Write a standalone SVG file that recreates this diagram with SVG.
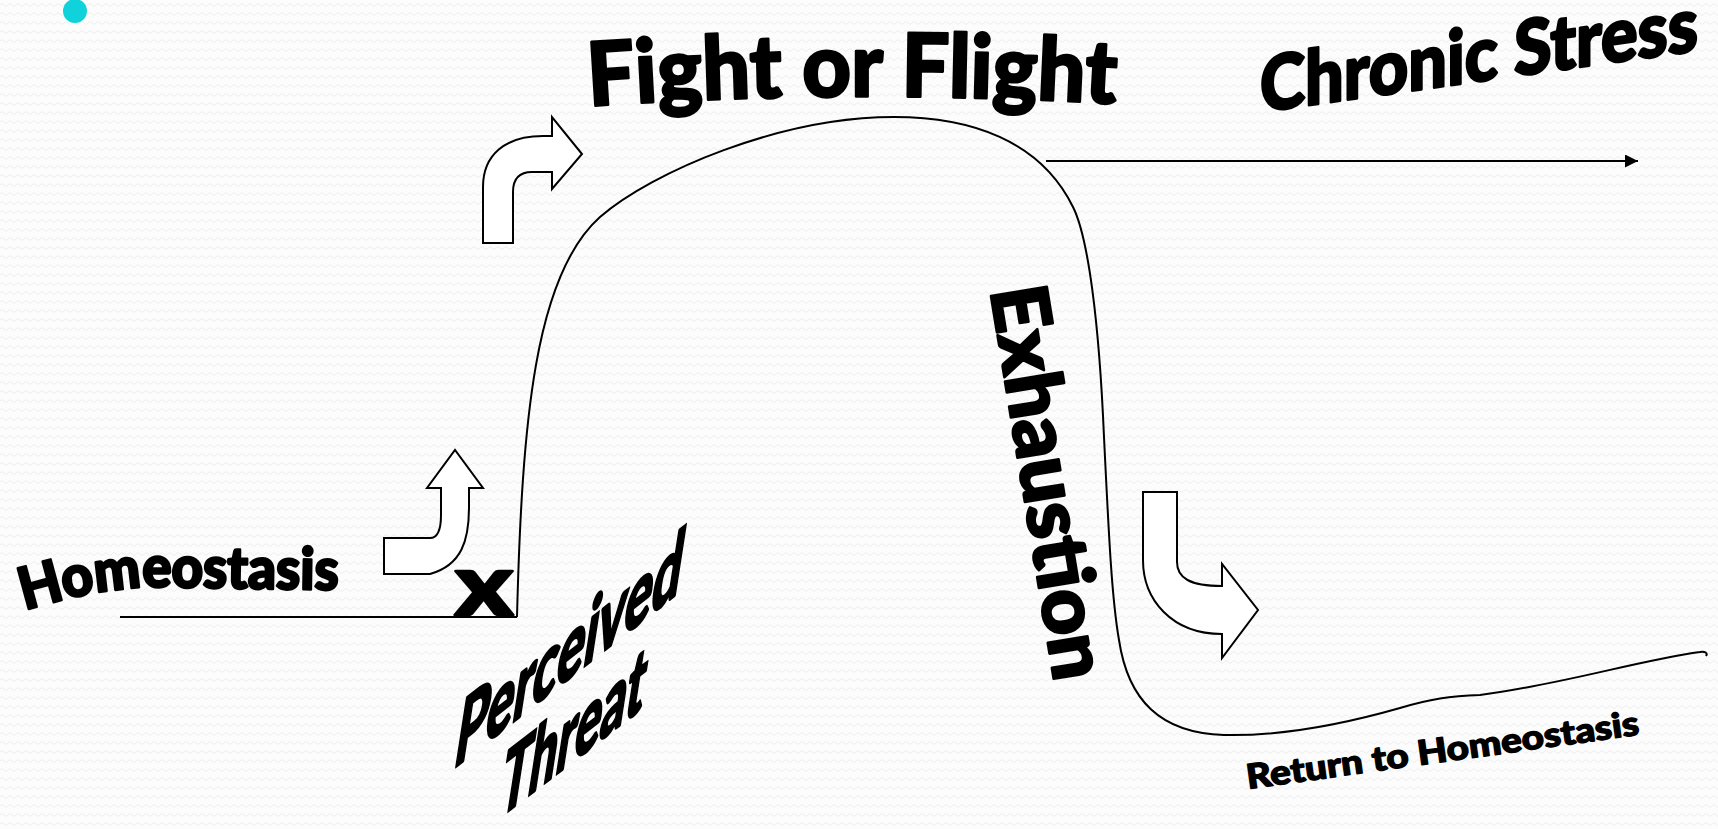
<svg xmlns="http://www.w3.org/2000/svg" width="1718" height="829" viewBox="0 0 1718 829">
<style>
.lbl{font-family:Lato,Inter,Roboto,"DejaVu Sans",sans-serif;font-weight:900;fill:#000;stroke:#000;stroke-width:2.6;stroke-linejoin:round}
.sm{stroke-width:1.3}
.blk{fill:#fff;stroke:#000;stroke-width:2;stroke-linejoin:miter}
.ln{fill:none;stroke:#000;stroke-width:2}
</style>
<defs>
<pattern id="bg" width="8" height="9" patternUnits="userSpaceOnUse">
<rect width="8" height="9" fill="#fcfcfc"/>
<path d="M0,5 Q2,2 4,5 T8,5" fill="none" stroke="#efefef" stroke-width="1"/>
</pattern>
<marker id="ah" viewBox="0 0 10 10" refX="10" refY="5" markerWidth="7" markerHeight="6.5" markerUnits="strokeWidth" orient="auto">
<path d="M0,0 L10,5 L0,10 Z" fill="#000"/>
</marker>
<path id="pFight" d="M589,106 Q853,88 1118,104"/>
<path id="pHomeo" d="M25,610 C60,600 100,589 150,587 L344,590"/>
</defs>
<rect width="1718" height="829" fill="url(#bg)"/>
<ellipse id="bullet" cx="75" cy="11" rx="12" ry="12" fill="#10d2da"/>

<g id="connectors">
<path class="ln" d="M120,617 L517,617"/>
<path class="ln" d="M517,617 C522,420 535,275 600,217 C652,172 780,117 894,117 C970,117 1040,140 1073,207 C1088,237 1099,320 1104,437 C1109,540 1112,600 1119,640 C1128,700 1160,733 1224,735 C1270,736 1330,728 1400,708 C1430,699 1450,696 1480,695 C1560,685 1640,660 1700,652 C1705,651 1708,653 1706,656"/>
<path class="ln" d="M1046,161 L1638,161" stroke-width="2.5" marker-end="url(#ah)"/>
</g>

<g id="arrow-up-right">
<path class="blk" d="M483,243 L483,187 C483,155 505,136 543,136 L552,136 L552,117 L582,154 L552,189 L552,172 L532,172 C518,172 513,180 513,192 L513,243 Z"/>
</g>
<g id="arrow-up">
<path class="blk" d="M384,574 L384,538 L430,538 C437,538 441,530 441,515 L441,488 L427,488 L455,450 L483,488 L469,488 L469,507 C469,540 462,565 430,574 Z"/>
</g>
<g id="arrow-down-right">
<path class="blk" d="M1143,492 L1177,492 L1177,562 C1177,578 1190,586 1222,586 L1222,564 L1258,610 L1222,658 L1222,634 C1172,634 1143,600 1143,560 Z"/>
</g>

<g id="label-homeostasis">
<text class="lbl" font-size="58"><textPath href="#pHomeo" textLength="316" lengthAdjust="spacingAndGlyphs">Homeostasis</textPath></text>
</g>
<g id="label-x">
<text class="lbl" x="455" y="615" font-size="86" textLength="58" lengthAdjust="spacingAndGlyphs">x</text>
</g>
<g id="label-perceived-threat">
<text class="lbl" font-size="84" transform="translate(452,770) skewY(-38) skewX(-10)" textLength="226" lengthAdjust="spacingAndGlyphs">Perceived</text>
<text class="lbl" font-size="84" transform="translate(497,820) skewY(-37.5) skewX(-10)" textLength="144" lengthAdjust="spacingAndGlyphs">Threat</text>
</g>
<g id="label-fight-or-flight">
<text class="lbl" font-size="88"><textPath href="#pFight" textLength="527" lengthAdjust="spacingAndGlyphs">Fight or Flight</textPath></text>
</g>
<g id="label-chronic-stress">
<text class="lbl" font-size="76" transform="translate(1260,112) skewY(-8)" textLength="438" lengthAdjust="spacingAndGlyphs">Chronic Stress</text>
</g>
<g id="label-exhaustion">
<text class="lbl" font-size="78" transform="translate(990,290) rotate(80.7)" textLength="398" lengthAdjust="spacingAndGlyphs">Exhaustion</text>
</g>
<g id="label-return">
<text class="lbl sm" font-size="34" transform="translate(1248,789) rotate(-7.9)" textLength="396" lengthAdjust="spacingAndGlyphs">Return to Homeostasis</text>
</g>
</svg>
